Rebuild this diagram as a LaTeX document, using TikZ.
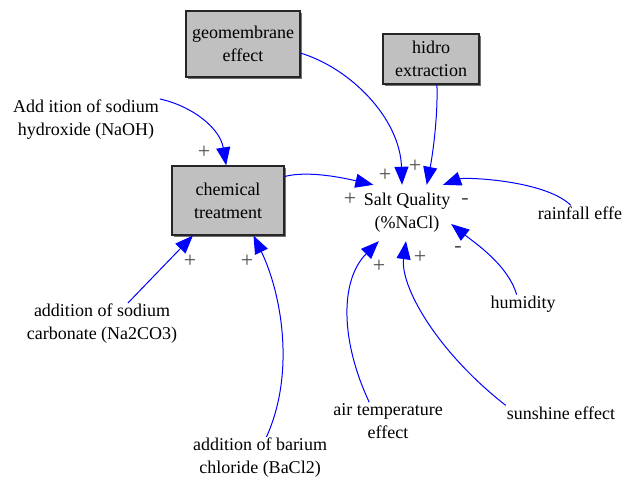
\documentclass[tikz,border=0pt]{standalone}
\usepackage{fontspec}
\setmainfont{Liberation Serif}
\usetikzlibrary{arrows.meta,shadows}
\definecolor{vblue}{RGB}{0,0,255}
\definecolor{boxgray}{RGB}{192,192,192}
\begin{document}
\begin{tikzpicture}[x=1pt,y=-1pt,
  every node/.style={font=\fontsize{18}{23}\selectfont, align=center, inner sep=1pt, text=black},
  box/.style={draw=black!85, line width=1.3pt, fill=boxgray,
    drop shadow={shadow xshift=2pt, shadow yshift=-2pt, fill=black!55, opacity=1}},
  lnk/.style={draw=vblue, line width=1pt, -{Triangle[length=18pt,width=14pt]}},
  sgn/.style={font=\fontsize{22}{22}\selectfont, text=black!70, inner sep=0pt}
]
\useasboundingbox (0,0) rectangle (633,481);

% stocks / boxes
\node[box, minimum width=114pt, minimum height=66pt] (geo) at (243,44) {geomembrane\\effect};
\node[box, minimum width=96pt, minimum height=50pt] (hid) at (431,59) {hidro\\extraction};
\node[box, minimum width=112pt, minimum height=69pt] (chem) at (228,200.5) {chemical\\treatment};

% variables
\node (naoh) at (86,120) {Add ition of sodium\\hydroxide (NaOH)};
\node[minimum width=88pt, minimum height=56pt, inner sep=0pt] (sq) at (407,213) {Salt Quality\\(\%NaCl)};
\node (rain) at (580,213) {rainfall effe};
\node (hum) at (523,304) {humidity};
\node (sun) at (561,413) {sunshine effect};
\node (air) at (388,421) {air temperature\\effect};
\node (ba) at (260,458) {addition of barium\\chloride (BaCl2)};
\node (na2) at (102,324) {addition of sodium\\carbonate (Na2CO3)};

% links
\draw[lnk] (naoh.north east) .. controls (192,106) and (220,128) .. (chem.93);
\draw[lnk] (chem.23) .. controls (310,170) and (348,179) .. (sq.140);
\draw[lnk] (geo.-9) .. controls (350,68) and (400,118) .. (sq.100);
\draw[lnk] (hid.-77) .. controls (438,115) and (433,153) .. (sq.55);
\draw[lnk] (rain.140) .. controls (545,180) and (465,177) .. (sq.38);
\draw[lnk] (hum.124) .. controls (508,265) and (475,243) .. (sq.-14);
\draw[lnk] (sun.north west) .. controls (435,350) and (400,285) .. (sq.-92);
\draw[lnk] (air.135) .. controls (340,340) and (340,280) .. (sq.-135);
\draw[lnk] (na2.39) -- (chem.-135);
\draw[lnk] (ba.73) .. controls (296,372) and (281,292) .. (chem.-54);

% polarity signs
\node[sgn] (p1) at (204,152) {+};
\node[sgn] (p2) at (190,261) {+};
\node[sgn] (p3) at (247,261) {+};
\node[sgn] (p4) at (350,199) {+};
\node[sgn] (p5) at (385,175) {+};
\node[sgn] (p6) at (415,166) {+};
\node[sgn] (p7) at (465,201) {-};
\node[sgn] (p8) at (458,249) {-};
\node[sgn] (p9) at (420,257) {+};
\node[sgn] (p10) at (379,266) {+};
\end{tikzpicture}
\end{document}
